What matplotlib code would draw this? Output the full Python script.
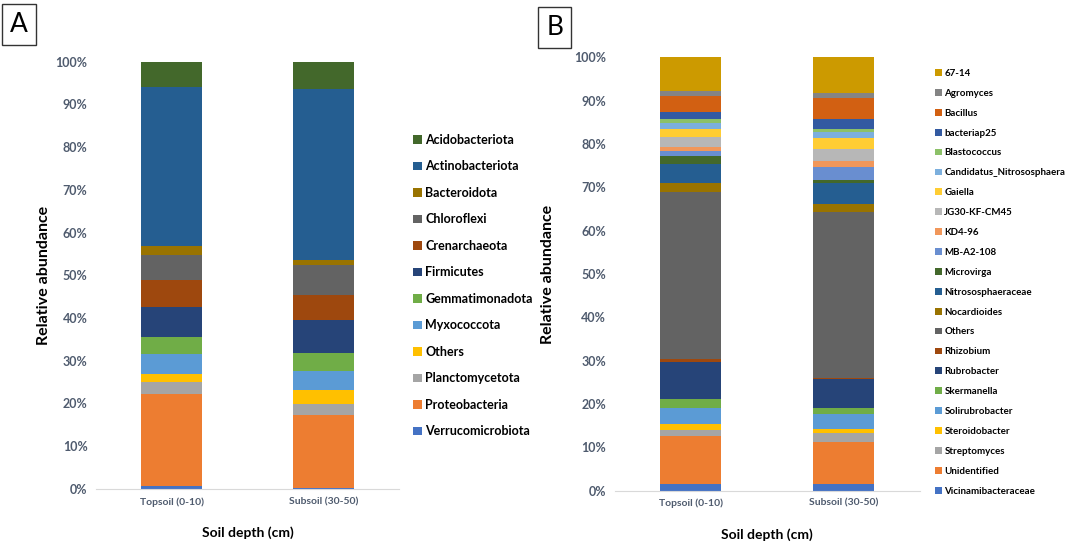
import numpy as np
import matplotlib
matplotlib.use("Agg")
import matplotlib.pyplot as plt
from matplotlib.ticker import PercentFormatter

plt.rcParams['font.family'] = ['Lato', 'DejaVu Sans']

# 样本
depths = ["Topsoil (0-10)", "Subsoil (30-50)"]

# A: 门水平 (从底部到顶部)
phyla = ["Verrucomicrobiota", "Proteobacteria", "Planctomycetota", "Others",
         "Myxococcota", "Gemmatimonadota", "Firmicutes", "Crenarchaeota",
         "Chloroflexi", "Bacteroidota", "Actinobacteriota", "Acidobacteriota"]
phyla_top = [0.6, 21.6, 2.9, 1.9, 4.5, 4.1, 6.9, 6.3, 5.9, 2.1, 37.4, 5.8]
phyla_sub = [0.3, 17.0, 2.5, 3.3, 4.4, 4.4, 7.7, 5.7, 7.2, 1.0, 40.1, 6.4]
phyla_colors = ["#4472C4", "#ED7D31", "#A5A5A5", "#FFC000", "#5B9BD5", "#70AD47",
                "#264478", "#9E480E", "#636363", "#997300", "#255E91", "#43682B"]

# B: 属水平 (从底部到顶部)
genera = ["Vicinamibacteraceae", "Unidentified", "Streptomyces", "Steroidobacter",
          "Solirubrobacter", "Skermanella", "Rubrobacter", "Rhizobium", "Others",
          "Nocardioides", "Nitrososphaeraceae", "Microvirga", "MB-A2-108", "KD4-96",
          "JG30-KF-CM45", "Gaiella", "Candidatus_Nitrososphaera", "Blastococcus",
          "bacteriap25", "Bacillus", "Agromyces", "67-14"]
genera_top = [1.5, 11.0, 1.4, 1.5, 3.7, 2.1, 8.4, 0.7, 38.6, 2.0, 4.5, 1.8,
              1.2, 1.0, 2.3, 1.8, 1.3, 1.1, 1.5, 3.8, 1.0, 7.8]
genera_sub = [1.5, 9.7, 2.1, 0.9, 3.4, 1.4, 6.8, 0.1, 38.4, 1.8, 4.9, 0.8,
              2.9, 1.3, 2.8, 2.5, 1.4, 0.7, 2.4, 4.8, 1.2, 8.2]
genera_colors = ["#4472C4", "#ED7D31", "#A5A5A5", "#FFC000", "#5B9BD5", "#70AD47",
                 "#264478", "#9E480E", "#636363", "#997300", "#255E91", "#43682B",
                 "#698ED0", "#F1975A", "#B7B7B7", "#FFCD33", "#7CAFDD", "#8CC168",
                 "#335AA1", "#D26012", "#848484", "#CC9A00"]

tick_color = "#4F5B6E"


def stacked(ax, names, top, sub, cols, ypad):
    x = np.arange(len(depths))
    bottom = np.zeros(len(depths))
    handles = []
    for name, a, b, c in zip(names, top, sub, cols):
        vals = np.array([a, b]) / 100.0
        h = ax.bar(x, vals, 0.4, bottom=bottom, color=c, label=name)
        handles.append(h)
        bottom += vals
    ax.set_xlim(-0.5, 1.5)
    ax.set_ylim(0, 1)
    ax.set_yticks(np.arange(0, 1.01, 0.1))
    ax.yaxis.set_major_formatter(PercentFormatter(1.0, decimals=0))
    ax.set_xticks(x)
    ax.set_xticklabels(depths, fontsize=7.5, fontweight='bold', color=tick_color)
    for lab in ax.get_yticklabels():
        lab.set_fontsize(9)
        lab.set_fontweight('bold')
        lab.set_color(tick_color)
    ax.tick_params(length=0, pad=6)
    for s in ['top', 'right', 'left']:
        ax.spines[s].set_visible(False)
    ax.spines['bottom'].set_color('#D9D9D9')
    ax.set_ylabel("Relative abundance", fontsize=11.5, fontweight='bold', labelpad=ypad)
    ax.set_xlabel("Soil depth (cm)", fontsize=10, fontweight='bold', labelpad=14)
    return handles


fig = plt.figure(figsize=(10.65, 5.42), dpi=100)
axA = fig.add_axes([0.090, 0.098, 0.285, 0.788])
axB = fig.add_axes([0.577, 0.095, 0.287, 0.799])

hA = stacked(axA, phyla, phyla_top, phyla_sub, phyla_colors, 3)
hB = stacked(axB, genera, genera_top, genera_sub, genera_colors, 14)

fig.legend(hA[::-1], phyla[::-1], loc='upper left', bbox_to_anchor=(0.383, 0.762),
           frameon=False, prop={'size': 9, 'weight': 'bold'}, handlelength=0.7,
           handleheight=0.7, handletextpad=0.3, labelspacing=1.16, borderaxespad=0)
fig.legend(hB[::-1], genera[::-1], loc='upper left', bbox_to_anchor=(0.874, 0.880),
           frameon=False, prop={'size': 7, 'weight': 'bold'}, handlelength=0.7,
           handleheight=0.7, handletextpad=0.3, labelspacing=1.12, borderaxespad=0)

# 面板标签
fig.text(0.018, 0.955, "A", fontsize=19, ha='center', va='center',
         bbox=dict(boxstyle='square,pad=0.3', fc='white', ec='#333333', lw=1))
fig.text(0.521, 0.950, "B", fontsize=19, ha='center', va='center',
         bbox=dict(boxstyle='square,pad=0.3', fc='white', ec='#333333', lw=1))

fig.savefig("out.png", dpi=100)
